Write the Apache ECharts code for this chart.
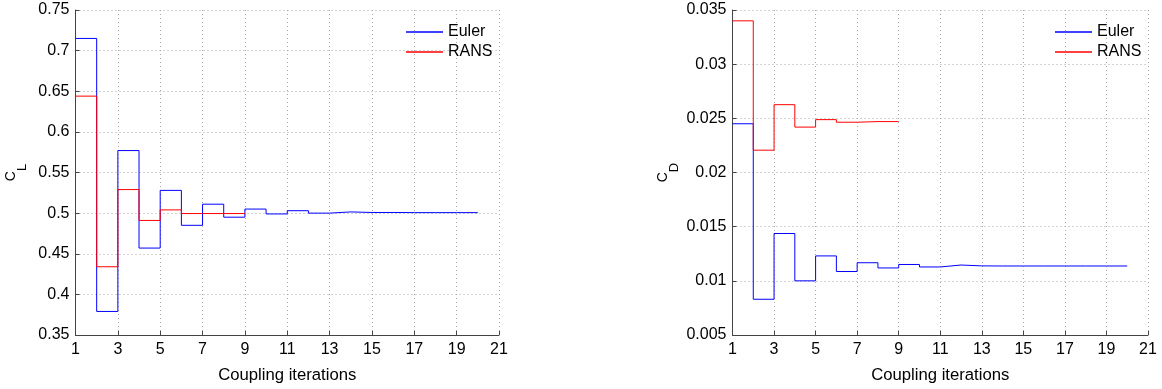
<!DOCTYPE html>
<html>
<head>
<meta charset="utf-8">
<script src="https://cdn.jsdelivr.net/npm/echarts@6/dist/echarts.min.js"></script>
<style>
html,body{margin:0;padding:0;background:#fff;}
#chart{width:1162px;height:389px;}
</style>
</head>
<body>
<div id="chart"></div>
<script>
// ---- data ----
const iterations = ['1','2','3','4','5','6','7','8','9','10','11','12','13','14','15','16','17','18','19','20','21'];
const eulerCL = [0.715, 0.379, 0.577, 0.457, 0.528, 0.485, 0.511, 0.495, 0.505, 0.499, 0.503, 0.500, 0.5015, 0.5008, 0.5008, 0.5006, 0.5006, 0.5006, 0.5006, 0.5006];
const ransCL  = [0.644, 0.434, 0.529, 0.491, 0.504, 0.4995, 0.4995, 0.4995, 0.4995];
const eulerCD = [0.0245, 0.0083, 0.01437, 0.0100, 0.0123, 0.01086, 0.01167, 0.01119, 0.01151, 0.01128, 0.01146, 0.01138, 0.01137, 0.01137, 0.01137, 0.01137, 0.01137, 0.01137, 0.01137, 0.01137];
const ransCD  = [0.0340, 0.02206, 0.02626, 0.02419, 0.02488, 0.02464, 0.0247, 0.0247, 0.0247];
const clTicks = {min: 0.35, max: 0.75, interval: 0.05};
const cdTicks = {min: 0.005, max: 0.035, interval: 0.005};

const FONT = 'Liberation Sans, Arial, Helvetica, sans-serif';
const chart = echarts.init(document.getElementById('chart'), null, {renderer: 'canvas'});

const gridLine = {show: true, lineStyle: {color: '#a8a8a8', type: [1, 3], width: 1}};
const axisLine = {show: true, onZero: false, lineStyle: {color: '#444', width: 1}};

function xAxis(gi) {
  return {
    type: 'category', gridIndex: gi, data: iterations, boundaryGap: false,
    name: 'Coupling iterations', nameLocation: 'middle', nameGap: 32,
    nameTextStyle: {fontSize: 16.7, color: '#000', fontFamily: FONT},
    axisLine: axisLine,
    axisTick: {show: true, inside: true, length: 4, interval: 1, lineStyle: {color: '#444'}},
    axisLabel: {interval: 1, fontSize: 16, color: '#000', fontFamily: FONT, margin: 7},
    splitLine: Object.assign({interval: 1}, gridLine)
  };
}
function yAxis(gi, t, sub, gap) {
  return {
    type: 'value', gridIndex: gi, min: t.min, max: t.max, interval: t.interval,
    name: '{c|C}{s|' + sub + '}', nameLocation: 'middle', nameRotate: 90, nameGap: gap,
    nameTextStyle: {
      fontFamily: FONT, color: '#000',
      rich: {
        c: {fontSize: 14, fontFamily: FONT, color: '#000'},
        s: {fontSize: 13, fontFamily: FONT, color: '#000', padding: [22, 0, 0, 0]}
      }
    },
    axisLine: axisLine,
    axisTick: {show: true, inside: true, length: 4, lineStyle: {color: '#444'}},
    axisLabel: {fontSize: 16, color: '#000', fontFamily: FONT, margin: 6},
    splitLine: gridLine
  };
}
function line(name, gi, data, color) {
  return {
    name: name, type: 'line', xAxisIndex: gi, yAxisIndex: gi, data: data,
    step: 'end', showSymbol: false, symbol: 'none', animation: false,
    lineStyle: {color: color, width: 1}, itemStyle: {color: color}
  };
}
function legend(left) {
  return {
    orient: 'vertical', left: left, top: 17, itemWidth: 37, itemHeight: 1.3, itemGap: 0,
    icon: 'rect',
    data: ['Euler', 'RANS'],
    textStyle: {fontSize: 16, color: '#000', fontFamily: FONT, lineHeight: 20, padding: [0, 0, 0, 0]}
  };
}

chart.setOption({
  backgroundColor: '#fff',
  animation: false,
  grid: [
    {left: 75.5, top: 10, width: 423.5, height: 333},
    {left: 732.5, top: 10, width: 415.5, height: 333}
  ],
  legend: [legend(401), legend(1050)],
  xAxis: [xAxis(0), xAxis(1)],
  yAxis: [yAxis(0, clTicks, 'L', 47), yAxis(1, cdTicks, 'D', 52)],
  series: [
    line('Euler', 0, eulerCL, '#0000ff'),
    line('RANS', 0, ransCL, '#ff0000'),
    line('Euler', 1, eulerCD, '#0000ff'),
    line('RANS', 1, ransCD, '#ff0000')
  ]
});
</script>
</body>
</html>
